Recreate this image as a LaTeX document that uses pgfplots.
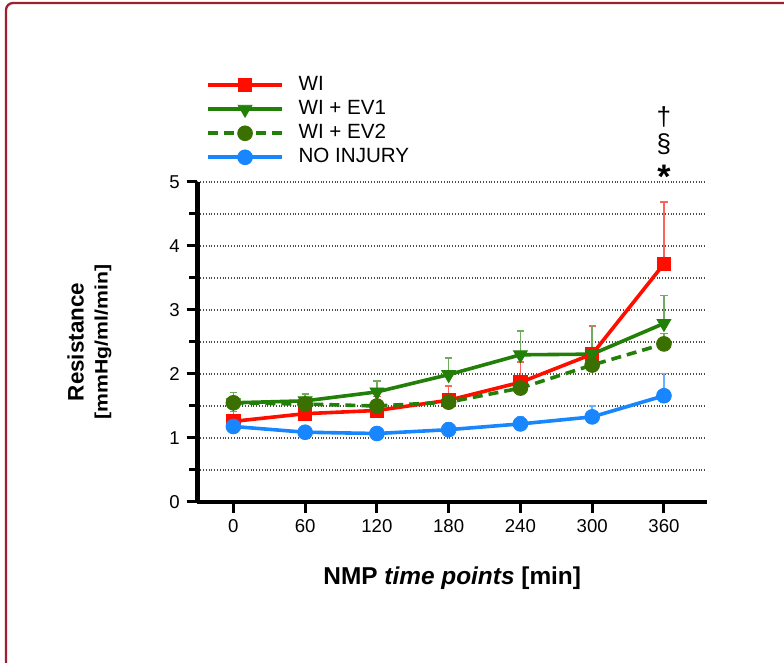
\documentclass[border=0pt]{standalone}
\usepackage{pgfplots}
\pgfplotsset{compat=1.18}
\usepackage{pgfplotstable}
\usepackage{fontspec}
\setmainfont{Liberation Sans}

\definecolor{wired}{RGB}{255,14,0}
\definecolor{evgreen}{RGB}{34,128,8}
\definecolor{evolive}{RGB}{58,112,0}
\definecolor{noblue}{RGB}{24,134,255}
\definecolor{framered}{RGB}{158,32,48}

% time (min), mean resistance, upper error
\pgfplotstableread{
t   y     e
0   1.26  0.15
60  1.38  0.16
120 1.43  0.22
180 1.59  0.22
240 1.87  0.32
300 2.31  0.44
360 3.72  0.97
}\wi
\pgfplotstableread{
t   y     e
0   1.55  0.16
60  1.58  0.11
120 1.72  0.17
180 1.99  0.26
240 2.30  0.37
300 2.31  0.45
360 2.79  0.44
}\evone
\pgfplotstableread{
t   y     e
0   1.55  0.08
60  1.53  0.10
120 1.50  0.10
180 1.56  0.08
240 1.78  0.08
300 2.14  0.10
360 2.47  0.16
}\evtwo
\pgfplotstableread{
t   y     e
0   1.18  0.05
60  1.09  0.05
120 1.07  0.05
180 1.13  0.11
240 1.22  0.12
300 1.33  0.17
360 1.66  0.35
}\noinj

\pgfplotsset{
  errstyle/.style={
    error bars/error bar style={solid, line width=0.7pt, draw=#1!65},
    error bars/error mark options={solid, rotate=90, line width=0.7pt, mark size=1.8pt, draw=#1!65}},
}

\begin{document}
\begin{tikzpicture}
\useasboundingbox (0,0) rectangle (392pt,331.5pt);
\begin{scope}
  \clip (0,0) rectangle (392pt,331.5pt);
  \draw[framered, line width=1.15pt, rounded corners=3.5pt] (3pt,-30pt) rectangle (430pt,330pt);
\end{scope}
\begin{axis}[
  at={(98.75pt,80.5pt)}, anchor=south west,
  width=254.75pt, height=160pt, scale only axis,
  xmin=-30, xmax=396, ymin=0, ymax=5,
  axis x line*=bottom, axis y line*=left,
  axis line style={line width=2.4pt},
  xtick={0,60,...,360},
  ytick={0,1,...,5},
  minor ytick={0.5,1.5,...,4.5},
  tick align=outside,
  major tick length=5.4pt,
  minor tick length=4.2pt,
  every tick/.style={black, line width=1.5pt},
  ymajorgrids, yminorgrids,
  major grid style={densely dotted, black!70, line width=0.6pt},
  minor grid style={densely dotted, black!70, line width=0.6pt},
  /pgf/number format/assume math mode=true,
  tick label style={font=\fontsize{9.3}{11}\selectfont},
  every axis y label/.style={at={(axis description cs:-0.212,0.5)}, rotate=90, anchor=center, align=center},
  ylabel={\bfseries\fontsize{11.2}{12}\selectfont Resistance\\[0pt]\bfseries\fontsize{9}{10}\selectfont\scalebox{1.18}[1]{[mmHg/ml/min]}},
  every axis x label/.style={at={(axis description cs:0.5,-0.259)}, anchor=base},
  xlabel={\bfseries\fontsize{12.2}{14}\selectfont NMP \textit{time points} [min]},
  clip=false,
  legend style={at={(axis description cs:0.017,1.341)}, anchor=north west,
    draw=none, fill=none, inner sep=0pt, row sep=0pt,
    font=\fontsize{10.3}{12}\selectfont,
    nodes={inner sep=0pt, text height=8.5pt, text depth=3.5pt},
    /tikz/every odd column/.append style={column sep=7.5pt}},
  legend cell align=left,
  legend image code/.code={\draw[mark repeat=2,mark phase=2] plot coordinates {(0pt,0pt) (18.35pt,0pt) (36.7pt,0pt)};},
  error bars/y dir=plus,
  error bars/y explicit,
]
\addplot[wired, line width=1.8pt, mark=square*, mark size=3.3pt,
  mark options={line width=0.4pt}, errstyle=wired]
  table[x=t, y=y, y error=e] {\wi};
\addlegendentry{WI}
\addplot[evgreen, line width=1.8pt, mark=triangle*, mark size=4pt,
  mark options={rotate=180, line width=0.4pt}, errstyle=evgreen]
  table[x=t, y=y, y error=e] {\evone};
\addlegendentry{WI + EV1}
\addplot[evgreen, line width=1.8pt, dash pattern=on 5pt off 3pt, mark=*, mark size=3.7pt,
  mark options={solid, line width=0.4pt, fill=evolive, draw=evolive}, errstyle=evgreen]
  table[x=t, y=y, y error=e] {\evtwo};
\addlegendentry{WI + EV2}
\addplot[noblue, line width=1.8pt, mark=*, mark size=3.7pt,
  mark options={line width=0.4pt}, errstyle=noblue]
  table[x=t, y=y, y error=e] {\noinj};
\addlegendentry{NO INJURY}
\node[font=\fontsize{13}{14}\selectfont] at (axis cs:360,6.02) {†};
\node[font=\fontsize{13}{14}\selectfont] at (axis cs:360,5.59) {§};
\node[font=\bfseries\fontsize{17}{18}\selectfont] at (axis cs:360,5.08) {*};
\end{axis}
\end{tikzpicture}
\end{document}
